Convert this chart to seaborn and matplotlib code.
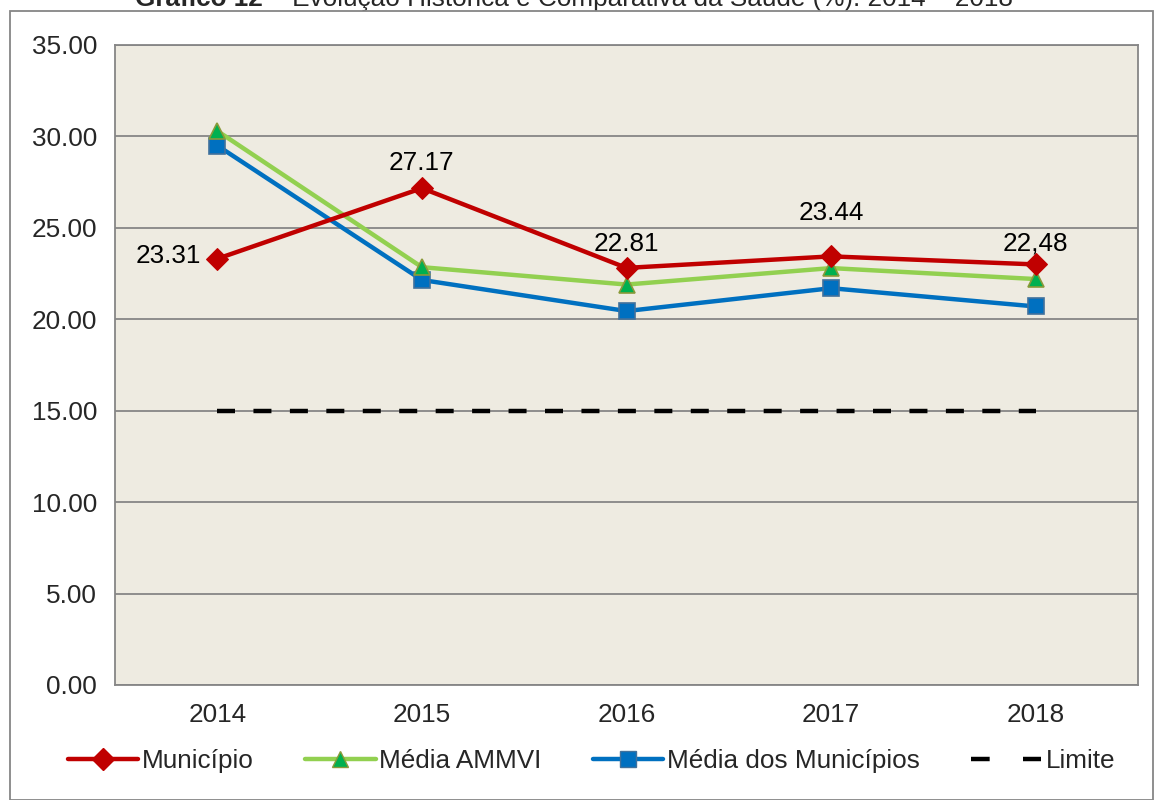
import matplotlib
matplotlib.use("Agg")
import matplotlib.pyplot as plt
import seaborn as sns
import pandas as pd
from matplotlib.lines import Line2D
from matplotlib.patches import Rectangle

# data
years = [2014, 2015, 2016, 2017, 2018]
municipio = [23.31, 27.17, 22.81, 23.44, 23.00]
media_ammvi = [30.30, 22.85, 21.90, 22.80, 22.20]
media_municipios = [29.50, 22.15, 20.45, 21.70, 20.70]
limite = [15.0, 15.0, 15.0, 15.0, 15.0]
municipio_labels = ["23.31", "27.17", "22.81", "23.44", "22,48"]
yticks = [0, 5, 10, 15, 20, 25, 30, 35]

# label offsets (points) relative to each Município marker
label_offsets = [(-12, 2), (0, 18), (0, 17), (0, 31), (0, 15)]

sns.set_style("white")
plt.rcParams["font.family"] = ["Liberation Sans", "DejaVu Sans"]

df = pd.DataFrame({"Ano": years, "Município": municipio, "Média AMMVI": media_ammvi,
                   "Média dos Municípios": media_municipios, "Limite": limite})

fig = plt.figure(figsize=(11.55, 8), dpi=100)
ax = fig.add_axes([115 / 1155, 1 - 685 / 800, (1138 - 115) / 1155, (685 - 45) / 800])
ax.set_facecolor("#EEEBE1")

fs = 18.8
dash = (0, (4.05, 4.15))

sns.lineplot(data=df, x="Ano", y="Média dos Municípios", ax=ax, color="#0070C0", lw=3.2,
             marker="s", markersize=11, markerfacecolor="#0070C0", markeredgecolor="#41719C",
             markeredgewidth=1.2, zorder=3)
sns.lineplot(data=df, x="Ano", y="Média AMMVI", ax=ax, color="#92D050", lw=3.2,
             marker="^", markersize=12, markerfacecolor="#00B050", markeredgecolor="#8A9A3A",
             markeredgewidth=1.2, zorder=4)
sns.lineplot(data=df, x="Ano", y="Município", ax=ax, color="#C00000", lw=3.2,
             marker="D", markersize=11, markerfacecolor="#C00000", markeredgecolor="#C00000",
             zorder=5)
sns.lineplot(data=df, x="Ano", y="Limite", ax=ax, color="black", lw=3.2,
             linestyle=dash, zorder=2)

for x, y, lab, (dx, dy) in zip(years, municipio, municipio_labels, label_offsets):
    ha = "right" if dx < 0 else "center"
    ax.annotate(lab, (x, y), xytext=(dx, dy), textcoords="offset points",
                ha=ha, va="center", fontsize=fs, color="black")

ax.set_xlim(2013.5, 2018.5)
ax.set_ylim(0, 35)
ax.set_xticks(years)
ax.set_xticklabels([str(y) for y in years])
ax.set_yticks(yticks)
ax.set_yticklabels([f"{v:.2f}" for v in yticks])
ax.tick_params(length=0, labelsize=fs, pad=13)
ax.grid(axis="y", color="#868686", lw=1.3)
ax.set_axisbelow(True)
for s in ax.spines.values():
    s.set_color("#868686")
    s.set_linewidth(1.3)
ax.set_xlabel("")
ax.set_ylabel("")

handles = [
    Line2D([], [], color="#C00000", lw=3.2, marker="D", markersize=11,
           markerfacecolor="#C00000", markeredgecolor="#C00000"),
    Line2D([], [], color="#92D050", lw=3.2, marker="^", markersize=12,
           markerfacecolor="#00B050", markeredgecolor="#8A9A3A"),
    Line2D([], [], color="#0070C0", lw=3.2, marker="s", markersize=11,
           markerfacecolor="#0070C0", markeredgecolor="#41719C"),
    Line2D([], [], color="black", lw=3.2, linestyle=(0, (4.2, 7.5))),
]
fig.legend(handles, ["Município", "Média AMMVI", "Média dos Municípios", "Limite"],
           loc="center", bbox_to_anchor=(0.512, 1 - 761 / 800), ncol=4, frameon=False,
           fontsize=fs, handlelength=2.7, handletextpad=0.15, columnspacing=1.95)

# outer chart border
fig.patches.append(Rectangle((10 / 1155, 0.0), (1153 - 10) / 1155, 1 - 11 / 800,
                             transform=fig.transFigure, fill=False,
                             edgecolor="#868686", lw=1.3))

# title, mostly cut off at the top as in the original
t1 = fig.text(135 / 1155, 1 - 6 / 800, "Gráfico 12", fontsize=fs, fontweight="bold",
              ha="left", va="baseline")
ax.annotate(" – Evolução Histórica e Comparativa da Saúde (%): 2014 – 2018",
            xy=(1, 0), xycoords=t1, ha="left", va="bottom", fontsize=fs,
            annotation_clip=False)

fig.savefig("out.png", dpi=100)
